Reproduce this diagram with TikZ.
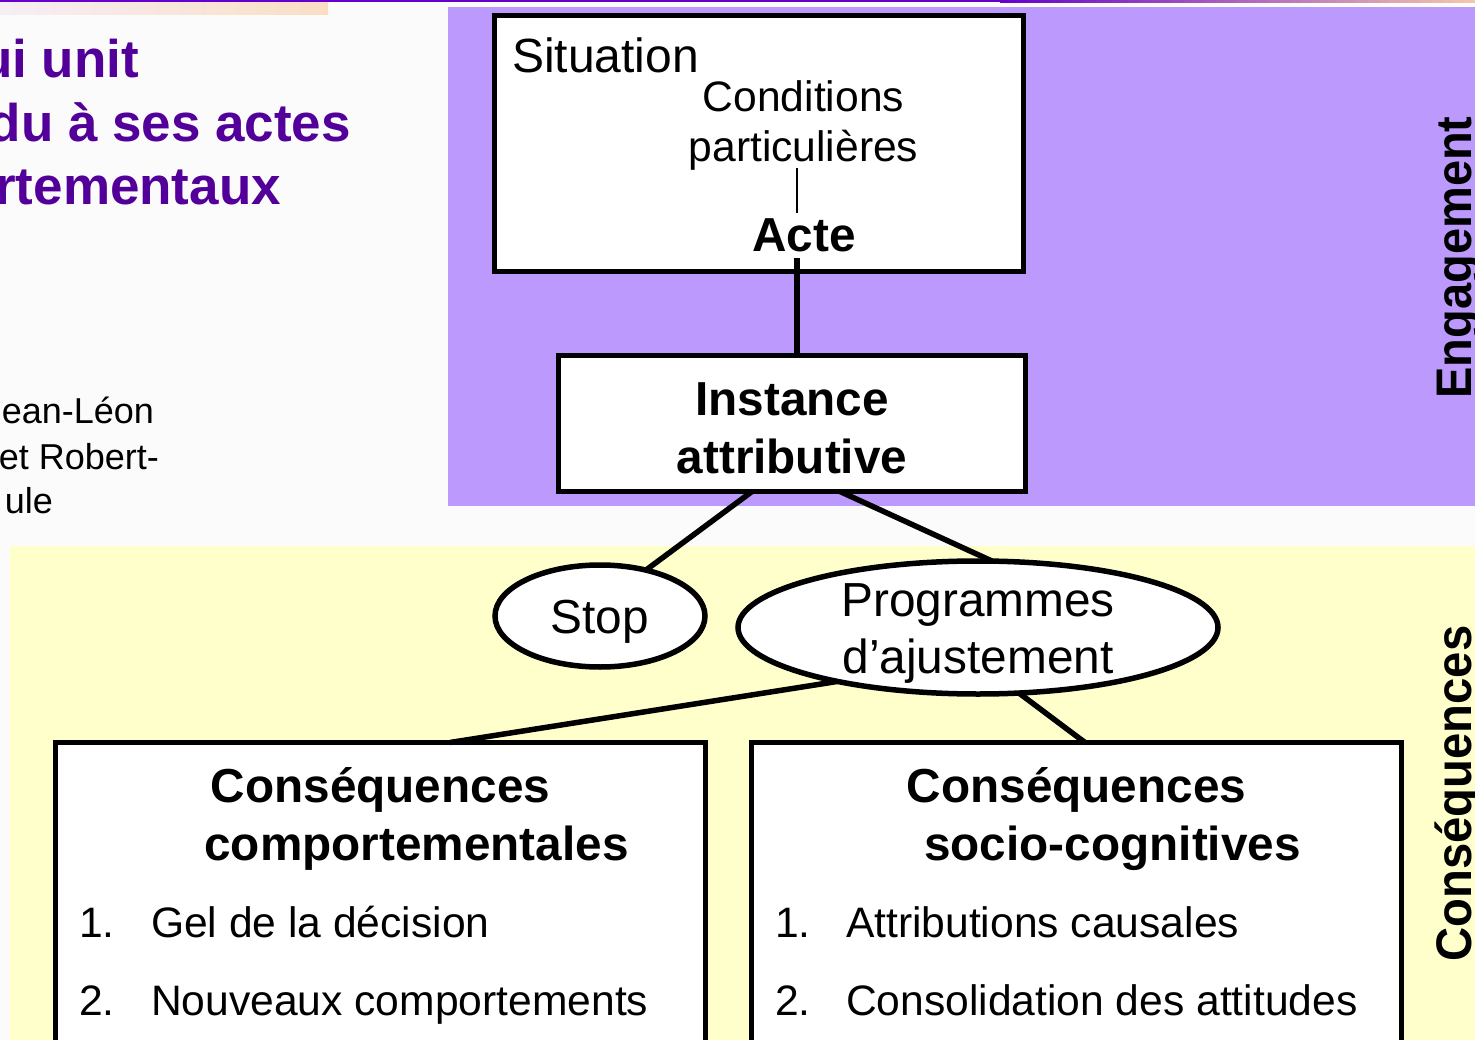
\documentclass[tikz,border=0pt]{standalone}
\usepackage{fontspec}
\usepackage{graphicx}
\setmainfont{Liberation Sans}
\usetikzlibrary{shapes.geometric,calc}
\definecolor{engpurple}{RGB}{188,153,253}
\definecolor{conyellow}{RGB}{255,255,204}
\definecolor{titlepurple}{RGB}{82,0,153}
\definecolor{linepurple}{RGB}{102,0,204}
\definecolor{peach}{RGB}{245,200,170}
\definecolor{pagebg}{RGB}{251,251,251}
\definecolor{stripL}{RGB}{246,238,246}
\definecolor{stripR}{RGB}{250,222,196}
\newcommand\fsTitle{\fontsize{53}{63}\selectfont\bfseries}
\newcommand\fsAuth{\fontsize{36}{44}\selectfont}
\newcommand\fsSit{\fontsize{48}{56}\selectfont}
\newcommand\fsMid{\fontsize{42.6}{50}\selectfont}
\newcommand\fsBold{\fontsize{47.7}{57}\selectfont\bfseries}
\newcommand\fsReg{\fontsize{47.8}{57}\selectfont}
\newcommand\fsSide{\fontsize{50}{60}\selectfont\bfseries}
\begin{document}
\begin{tikzpicture}[x=1pt,y=-1pt,
  box/.style={draw=black,line width=5.5pt,fill=white,rectangle,inner sep=0pt,outer sep=0pt},
  oval/.style={draw=black,line width=5.5pt,fill=white,ellipse,inner sep=0pt,outer sep=0pt},
  conn/.style={draw=black,line width=5.5pt},
  thinconn/.style={draw=black,line width=1.4pt},
  txt/.style={inner sep=0pt,outer sep=0pt,anchor=base},
  ttl/.style={txt,anchor=base east,text=titlepurple,font=\fsTitle},
  auth/.style={txt,anchor=base east,text=black,font=\fsAuth}
]
\useasboundingbox (0,0) rectangle (1475,1040);
% backgrounds
\fill[pagebg] (0,0) rectangle (1475,1040);
\shade[left color=stripL,right color=stripR] (0,2) rectangle (328,15);
\fill[linepurple] (0,0) rectangle (1000,2.5);
\shade[left color=linepurple,right color=peach] (1000,0) rectangle (1475,2.5);
\fill[engpurple] (448,7) rectangle (1475,506);
\fill[conyellow] (10,546) rectangle (1475,1040);

% title and authors (cut at the left edge)
\node[ttl] (t1) at (139,78) {ui unit};
\node[ttl] (t2) at (351,142) {du à ses actes};
\node[ttl] (t3) at (281,205) {rtementaux};
\node[auth] (a1) at (154,424) {ean-Léon};
\node[auth] (a2) at (159,469) {et Robert-};
\node[auth] (a3) at (53,513) {ule};

% boxes
\node[box,minimum width=529pt,minimum height=256pt] (sit) at (759,143.5) {};
\node[box,minimum width=467pt,minimum height=136pt] (inst) at (792,423.5) {};
\node[oval,minimum width=210pt,minimum height=102pt] (stop) at (600,616) {};
\node[oval,minimum width=480pt,minimum height=133pt] (prog) at (978,627.5) {};
\node[box,minimum width=650pt,minimum height=327.5pt] (lbox) at (380.5,906.25) {};
\node[box,minimum width=650pt,minimum height=327.5pt] (rbox) at (1076.5,906.25) {};

% texts in situation box
\node[txt,anchor=base west] (situation) at (512,73) {\fsSit Situation};
\node[txt] (cond1) at (803.5,112) {\fsMid Conditions};
\node[txt] (cond2) at (803.5,162) {\fsMid particulières};
\node[txt] (acte) at (804,252) {\fsBold Acte};
\coordinate (tlA) at (797,168);
\coordinate (tlB) at (797,213);
\coordinate (acteb) at (797,258);
\draw[thinconn] (tlA) -- (tlB);

% instance
\node[txt] (inst1) at (792,415) {\fsBold Instance};
\node[txt] (inst2) at (792,473) {\fsBold attributive};

% ellipses text
\node[txt] (stoptxt) at (599.5,633) {\fsReg Stop};
\node[txt] (prog1) at (978,616) {\fsReg Programmes};
\node[txt] (prog2) at (978,673) {\fsReg d’ajustement};

% consequence boxes
\node[txt] (lt1) at (380.5,802) {\fsBold Conséquences};
\node[txt] (lt2) at (416.5,860) {\fsBold comportementales};
\node[txt,anchor=base west] (ln1) at (79,937) {\fsMid 1.};
\node[txt,anchor=base west] (li1) at (151,937) {\fsMid Gel de la décision};
\node[txt,anchor=base west] (ln2) at (79,1015) {\fsMid 2.};
\node[txt,anchor=base west] (li2) at (151,1015) {\fsMid Nouveaux comportements};

\node[txt] (rt1) at (1076.5,802) {\fsBold Conséquences};
\node[txt] (rt2) at (1112.5,860) {\fsBold socio-cognitives};
\node[txt,anchor=base west] (rn1) at (775,937) {\fsMid 1.};
\node[txt,anchor=base west] (ri1) at (846,937) {\fsMid Attributions causales};
\node[txt,anchor=base west] (rn2) at (775,1015) {\fsMid 2.};
\node[txt,anchor=base west] (ri2) at (846,1015) {\fsMid Consolidation des attitudes};

% side labels
\node[txt,rotate=90] (eng) at (1471,257.5) {\fsSide\scalebox{0.94}[1]{Engagement}};
\node[txt,rotate=90] (cons) at (1471,793.5) {\fsSide\scalebox{0.945}[1]{Conséquences}};

% connectors
\draw[conn] (acteb) -- (acteb |- inst.north);
\draw[conn] ([xshift=-40pt]inst.south) -- (stop.45);
\draw[conn] ([xshift=48pt]inst.south) -- (prog.78);
\draw[conn] (prog.201) -- ([xshift=69.5pt]lbox.north);
\draw[conn] (prog.302) -- ([xshift=8.5pt]rbox.north);
\end{tikzpicture}
\end{document}
